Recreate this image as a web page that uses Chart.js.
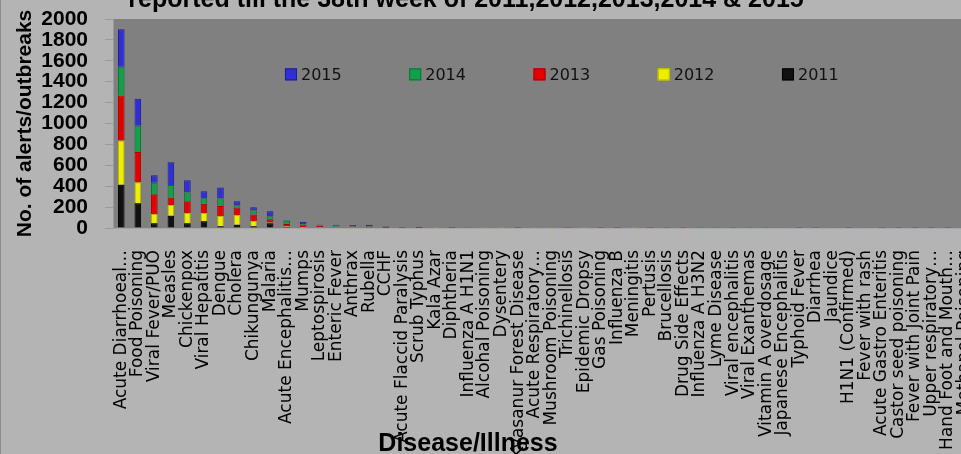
<!DOCTYPE html>
<html><head><meta charset="utf-8">
<script src="https://cdn.jsdelivr.net/npm/chart.js@4.4.1/dist/chart.umd.min.js"></script>
<style>
html,body{margin:0;padding:0;overflow:hidden;background:#b4b4b4;width:961px;height:454px}
#c{position:absolute;left:0;top:0}
#edge{position:absolute;left:0;top:0;width:1px;height:454px;background:#8c8c8c}
</style></head><body>
<canvas id="c" width="999" height="454"></canvas>
<div id="edge"></div>
<script>
const categories = ['Acute Diarrhoeal…','Food Poisoning','Viral Fever/PUO','Measles','Chickenpox','Viral Hepatitis','Dengue','Cholera','Chikungunya','Malaria','Acute Encephalitis…','Mumps','Leptospirosis','Enteric Fever','Anthrax','Rubella','CCHF','Acute Flaccid Paralysis','Scrub Typhus','Kala Azar','Diphtheria','Influenza A H1N1','Alcohal Poisoning','Dysentery','Kyasanur Forest Disease','Acute Respiratory…','Mushroom Poisoning','Trichinellosis','Epidemic Dropsy','Gas Poisoning','Influenza B','Meningitis','Pertusis','Brucellosis','Drug Side Effects','Influenza A H3N2','Lyme Disease','Viral encephalitis','Viral Exanthemas','Vitamin A overdosage','Japanese Encephalitis','Typhoid Fever','Diarrhea','Jaundice','H1N1 (Confirmed)','Fever with rash','Acute Gastro Enteritis','Castor seed poisoning','Fever with Joint Pain','Upper respiratory…','Hand Foot and Mouth…','Methanol Poisoning'];
const y2011 = [415,236,45,118,45,64,16,32,16,45,12,4,3,2,3,1,1,1,1,0,1,0,0,0,0,0,0,0,0,0,0,0,0,0,0,0,0,0,0,0,0,0,0,0,0,0,0,0,0,0,0,0];
const y2012 = [422,202,89,102,99,80,99,93,51,8,6,5,4,4,3,5,2,1,2,1,1,0,1,1,0,1,1,0,1,0,0,1,0,0,0,0,0,0,0,0,0,0,0,0,0,0,0,0,0,0,0,0];
const y2013 = [431,290,189,71,112,89,96,70,61,30,20,18,12,6,8,6,3,2,3,2,1,2,1,1,1,1,1,1,1,1,1,1,1,0,1,0,0,0,0,0,0,0,0,0,0,0,0,0,0,0,0,0];
const y2014 = [275,250,111,121,83,51,73,22,41,29,32,10,7,10,4,3,1,1,1,1,1,1,1,1,1,1,1,0,0,1,0,0,1,1,0,1,1,1,1,1,0,0,0,0,0,0,0,0,0,0,0,0];
const y2015 = [358,258,71,217,118,67,103,39,29,48,3,22,4,8,10,15,8,0,5,1,1,1,1,0,2,1,1,0,0,1,1,0,0,1,0,0,0,1,0,0,8,1,1,8,1,8,1,1,1,1,1,1];
const seriesNames = ['2011','2012','2013','2014','2015'];
const seriesValues = [y2011,y2012,y2013,y2014,y2015];
const seriesColors = ['#111111','#eeee00','#e40000','#12a04a','#2f2fd4'];
const seriesBorders = ['#000000','#b8b800','#a80000','#0a7030','#1c1c9a'];
const titleText = 'reported till the 38th week of 2011,2012,2013,2014 & 2015';
const yTitleText = 'No. of alerts/outbreaks';
const xTitleText = 'Disease/Illness';
const yMin = 0, yMax = 2000, yStep = 200;

const bgPlugin = {
  id: 'bg',
  beforeDraw(chart) {
    const {ctx, chartArea: a} = chart;
    ctx.save();
    ctx.fillStyle = '#b4b4b4';
    ctx.fillRect(0, 0, chart.width, chart.height);
    ctx.fillStyle = '#808080';
    ctx.fillRect(a.left, a.top, a.right - a.left, a.bottom - a.top);
    ctx.restore();
  }
};
const overlayPlugin = {
  id: 'overlay',
  afterDraw(chart) {
    const {ctx, chartArea: a} = chart;
    ctx.save();
    ctx.fillStyle = '#000';
    ctx.textAlign = 'center';
    ctx.textBaseline = 'alphabetic';
    ctx.font = 'bold 25px "Liberation Sans"';
    ctx.fillText(titleText, 466, a.top - 12);
    ctx.fillText(xTitleText, 468, a.bottom + 223);
    const w = a.right - a.left, h = a.bottom - a.top;
    const cy = a.top + 0.265 * h;
    ctx.font = '16px "DejaVu Sans"';
    ctx.textAlign = 'left';
    ctx.textBaseline = 'middle';
    const ds = chart.data.datasets;
    for (let i = 0; i < ds.length; i++) {
      const d = ds[ds.length - 1 - i];
      const x = a.left + w * (0.2 + i * 0.1445);
      ctx.fillStyle = d.backgroundColor;
      ctx.fillRect(x, cy - 6, 12, 12);
      ctx.strokeStyle = d.borderColor;
      ctx.lineWidth = 1;
      ctx.strokeRect(x + 0.5, cy - 5.5, 11, 11);
      ctx.fillStyle = '#111';
      ctx.fillText(d.label, x + 16, cy + 1);
    }
    ctx.restore();
  }
};

new Chart(document.getElementById('c'), {
  type: 'bar',
  data: {
    labels: categories,
    datasets: seriesNames.map((n, i) => ({
      label: n,
      data: seriesValues[i],
      backgroundColor: seriesColors[i],
      borderColor: seriesBorders[i],
      borderWidth: 1,
      categoryPercentage: 1,
      barPercentage: 0.4
    }))
  },
  options: {
    responsive: false,
    animation: false,
    layout: {padding: {top: 19, right: 0, left: 0, bottom: 0}},
    plugins: {legend: {display: false}, title: {display: false}, tooltip: {enabled: false}},
    scales: {
      x: {
        stacked: true,
        ticks: {autoSkip: false, minRotation: 90, maxRotation: 90, font: {family: 'DejaVu Sans', size: 17}, color: '#000', padding: 14},
        grid: {display: false},
        border: {display: true, color: '#a6a6a6'},
        afterFit: s => { s.height = 226; }
      },
      y: {
        stacked: true, min: yMin, max: yMax,
        ticks: {stepSize: yStep, autoSkip: false, callback: v => String(v), font: {family: 'Liberation Sans', weight: 'bold', size: 21}, color: '#000', padding: 17},
        grid: {drawOnChartArea: false, tickLength: 8, color: '#9a9a9a'},
        border: {display: true, color: '#9a9a9a'},
        title: {display: true, text: yTitleText, color: '#000', font: {family: 'Liberation Sans', weight: 'bold', size: 21}, padding: {top: 13, bottom: 0}},
        afterFit: s => { s.width = 113; s.paddingTop = 10; s.paddingBottom = 10; }
      }
    }
  },
  plugins: [bgPlugin, overlayPlugin]
});
</script>
</body></html>
